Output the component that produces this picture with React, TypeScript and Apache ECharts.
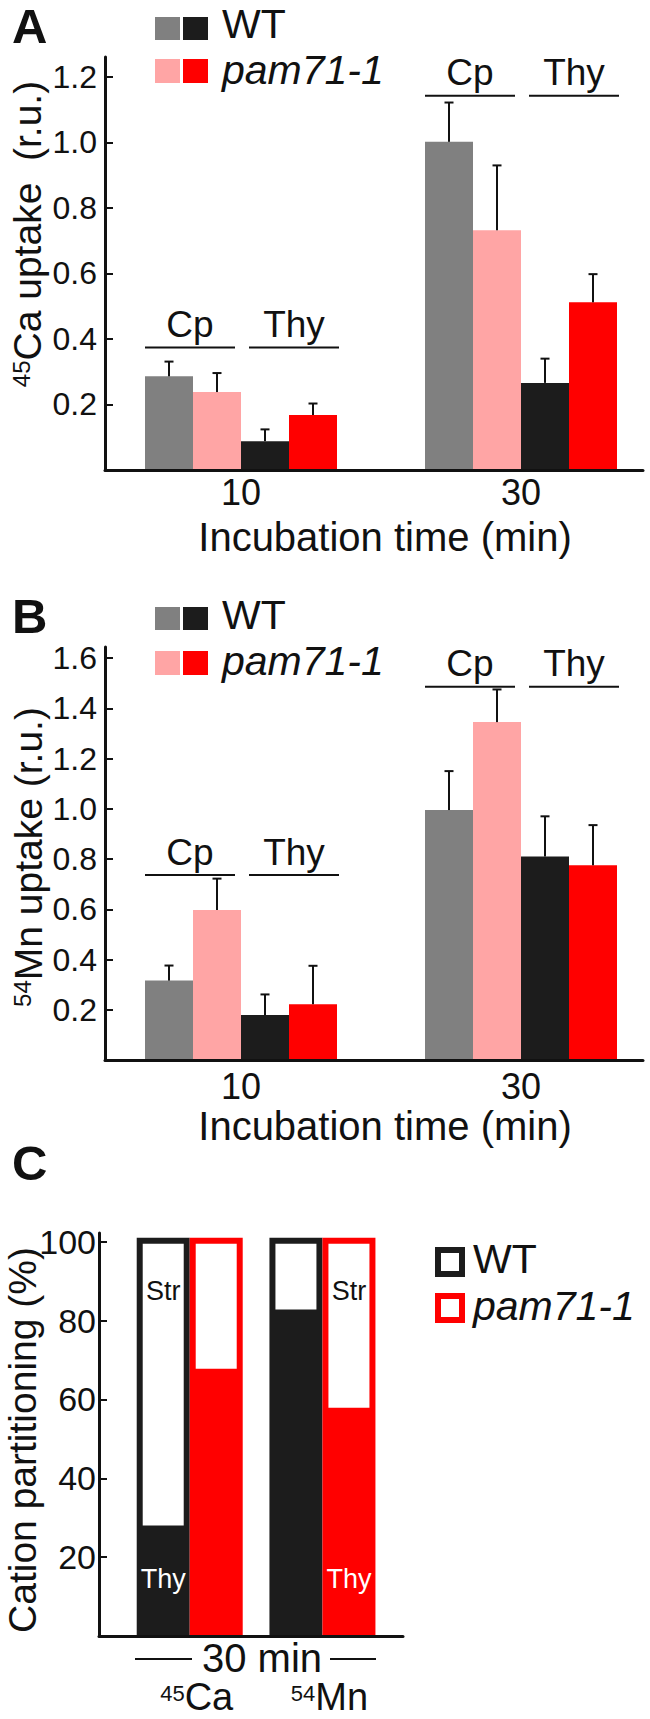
import React, { useEffect, useRef } from 'react';
import * as echarts from 'echarts';

const FONT = '"Liberation Sans", Arial, Helvetica, sans-serif';
const INK = '#111111';
const GREY = '#808080';
const PINK = '#ffa5a5';
const BLACK = '#1c1c1c';
const RED = '#ff0000';

// ---------------- data ----------------
const incubationTimes = [10, 30];
const compartments = ['Cp', 'Thy'];
const genotypes = ['WT', 'pam71-1'];

// Panel A: 45Ca uptake (r.u.)
const caCpWT = [0.286, 1.002];
const caCpPam = [0.238, 0.732];
const caThyWT = [0.088, 0.266];
const caThyPam = [0.168, 0.512];
const caCpWTErr = [0.045, 0.12];
const caCpPamErr = [0.058, 0.198];
const caThyWTErr = [0.036, 0.074];
const caThyPamErr = [0.035, 0.086];
const caBracketLevel = [0.374, 1.143];
const caTicks = [0.2, 0.4, 0.6, 0.8, 1.0, 1.2];

// Panel B: 54Mn uptake (r.u.)
const mnCpWT = [0.316, 0.995];
const mnCpPam = [0.597, 1.345];
const mnThyWT = [0.179, 0.81];
const mnThyPam = [0.222, 0.775];
const mnCpWTErr = [0.06, 0.155];
const mnCpPamErr = [0.125, 0.13];
const mnThyWTErr = [0.082, 0.16];
const mnThyPamErr = [0.153, 0.16];
const mnBracketLevel = [0.736, 1.486];
const mnTicks = [0.2, 0.4, 0.6, 0.8, 1.0, 1.2, 1.4, 1.6];

// Panel C: cation partitioning (%) after 30 min, Thy share
const cations = ['Ca', 'Mn'];
const cationMass = ['45', '54'];
const cationPos = [1, 2];
const thyShareWT = [28.0, 82.8];
const thySharePam = [67.8, 57.9];
const partTicks = [20, 40, 60, 80, 100];
const labelledWT = [true, false];
const labelledPam = [false, true];
const STR_LABEL_AT = 87.5;
const THY_LABEL_AT = 14.5;

// ---------------- layout constants ----------------
const TIME_RANGE = [0.2857, 38.714];
const CATION_RANGE = [0.3165, 2.607];
const BAR_W = 48;
const BAR_OFFSETS = [-72, -24, 24, 72];
const LEGEND_FS = 41;
const mid = (baseline: number, fs: number) => baseline - 0.3465 * fs;

const txtStyle = (extra: any = {}) => ({
  fontFamily: FONT,
  fill: INK,
  align: 'left',
  verticalAlign: 'middle',
  ...extra,
});

function errorBarItem(params: any, api: any) {
  const x = api.value(0);
  const m = api.value(1);
  const t = api.value(2);
  const k = api.value(3);
  const pm = api.coord([x, m]);
  const pt = api.coord([x, t]);
  const cx = pm[0] + BAR_OFFSETS[k];
  const ls = { stroke: INK, lineWidth: 2 };
  return {
    type: 'group',
    children: [
      { type: 'line', shape: { x1: cx, y1: pm[1], x2: cx, y2: pt[1] }, style: ls },
      { type: 'line', shape: { x1: cx - 4.5, y1: pt[1], x2: cx + 4.5, y2: pt[1] }, style: ls },
    ],
  };
}

function bracketItem(params: any, api: any) {
  const p = api.coord([api.value(0), api.value(1)]);
  const cx = p[0];
  const y = p[1];
  const segs = [
    [-96, -6],
    [8, 98],
  ];
  const children: any[] = [];
  segs.forEach((s, j) => {
    children.push({
      type: 'line',
      shape: { x1: cx + s[0], y1: y, x2: cx + s[1], y2: y },
      style: { stroke: INK, lineWidth: 2 },
    });
    children.push({
      type: 'text',
      x: cx + (s[0] + s[1]) / 2,
      y: mid(y - 10, 37),
      style: txtStyle({ text: compartments[j], fontSize: 37, lineHeight: 34, align: 'center' }),
    });
  });
  return { type: 'group', children };
}

const makePartitionRender = (color: string, side: number, labelled: boolean[]) => (params: any, api: any) => {
  const pos = api.value(0);
  const v = api.value(1);
  const p0 = api.coord([pos, 0]);
  const pv = api.coord([pos, v]);
  const p100 = api.coord([pos, 100]);
  const W = 53;
  const B = 6;
  const left = side < 0 ? p0[0] - W : p0[0];
  const top = p100[1] - 4;
  const children: any[] = [
    { type: 'rect', shape: { x: left, y: top, width: W, height: p0[1] - top }, style: { fill: color } },
    {
      type: 'rect',
      shape: { x: left + B, y: top + B, width: W - 2 * B, height: pv[1] - top - B },
      style: { fill: '#ffffff' },
    },
  ];
  if (labelled[params.dataIndex]) {
    const cx = left + W / 2;
    children.push({
      type: 'text',
      x: cx,
      y: api.coord([pos, STR_LABEL_AT])[1],
      style: txtStyle({ text: 'Str', fontSize: 27, lineHeight: 26, align: 'center', fill: INK }),
    });
    children.push({
      type: 'text',
      x: cx,
      y: api.coord([pos, THY_LABEL_AT])[1],
      style: txtStyle({ text: 'Thy', fontSize: 27, lineHeight: 26, align: 'center', fill: '#ffffff' }),
    });
  }
  return { type: 'group', children };
};

function uptakeSeries(gi: number, values: number[][], errs: number[][], brackets: number[]) {
  const colors = [GREY, PINK, BLACK, RED];
  const names = ['WT Cp', 'pam71-1 Cp', 'WT Thy', 'pam71-1 Thy'];
  const bars = values.map((vals, k) => ({
    type: 'bar',
    name: names[k],
    xAxisIndex: gi,
    yAxisIndex: gi,
    barWidth: BAR_W,
    barGap: '0%',
    itemStyle: { color: colors[k] },
    data: incubationTimes.map((t, i) => [t, vals[i]]),
  }));
  const errData: number[][] = [];
  values.forEach((vals, k) =>
    vals.forEach((v, i) => errData.push([incubationTimes[i], v, v + errs[k][i], k]))
  );
  return [
    ...bars,
    { type: 'custom', xAxisIndex: gi, yAxisIndex: gi, data: errData, renderItem: errorBarItem, z: 3 },
    {
      type: 'custom',
      xAxisIndex: gi,
      yAxisIndex: gi,
      data: incubationTimes.map((t, i) => [t, brackets[i]]),
      renderItem: bracketItem,
      z: 3,
    },
  ];
}

const axisLineStyle = { show: true, onZero: false, lineStyle: { color: INK, width: 3 } };

function timeXAxis(gi: number, margin: number) {
  return {
    type: 'value',
    gridIndex: gi,
    min: TIME_RANGE[0],
    max: TIME_RANGE[1],
    z: 5,
    axisLine: axisLineStyle,
    axisTick: { show: false },
    splitLine: { show: false },
    axisLabel: {
      customValues: incubationTimes,
      formatter: (v: number) => String(Math.round(v)),
      fontSize: 36,
      lineHeight: 36,
      color: INK,
      fontFamily: FONT,
      margin,
    },
  };
}

function valueYAxis(gi: number, max: number, ticks: number[], fs: number, margin: number, fmt: (v: number) => string) {
  return {
    type: 'value',
    gridIndex: gi,
    min: 0,
    max,
    z: 5,
    axisLine: axisLineStyle,
    axisTick: { show: true, inside: true, length: 8, customValues: ticks, lineStyle: { color: INK, width: 2 } },
    splitLine: { show: false },
    axisLabel: { customValues: ticks, formatter: fmt, fontSize: fs, color: INK, fontFamily: FONT, margin },
  };
}

function buildOption() {
  const g: any[] = [];
  const text = (t: string, x: number, y: number, fs: number, extra: any = {}, el: any = {}) =>
    g.push({ type: 'text', x, y, ...el, style: txtStyle({ text: t, fontSize: fs, ...extra }) });
  const rect = (x: number, y: number, w: number, h: number, style: any) =>
    g.push({ type: 'rect', shape: { x, y, width: w, height: h }, style });
  const line = (x1: number, y1: number, x2: number, y2: number) =>
    g.push({ type: 'line', shape: { x1, y1, x2, y2 }, style: { stroke: INK, lineWidth: 2 } });

  // panel letters
  text('A', 12, mid(43, 49), 49, { fontWeight: 'bold', lineHeight: 44 });
  text('B', 12, mid(633, 49), 49, { fontWeight: 'bold', lineHeight: 44 });
  text('C', 12, mid(1180, 49), 49, { fontWeight: 'bold', lineHeight: 44 });

  const legendText = (x: number, b1: number, b2: number) => {
    text(genotypes[0], x, mid(b1, LEGEND_FS), LEGEND_FS, { lineHeight: 38 });
    text(genotypes[1], x, mid(b2, LEGEND_FS), LEGEND_FS, { fontStyle: 'italic', lineHeight: 38 });
  };

  // legends A & B
  [
    [17, 38, 59, 84],
    [607, 629, 651, 675],
  ].forEach(([y1, b1, y2, b2]) => {
    rect(155, y1, 25, 23, { fill: GREY });
    rect(183, y1, 25, 23, { fill: BLACK });
    rect(155, y2, 25, 24, { fill: PINK });
    rect(183, y2, 25, 24, { fill: RED });
    legendText(222, b1, b2);
  });

  // legend C
  rect(438, 1250, 24, 24, { fill: '#ffffff', stroke: BLACK, lineWidth: 6 });
  rect(438, 1296, 24, 24, { fill: '#ffffff', stroke: RED, lineWidth: 6 });
  legendText(473, 1273, 1320);

  // axis names
  const supRich = { sup: { fontSize: 24, verticalAlign: 'top', fontFamily: FONT, fill: INK } };
  text('{sup|45}Ca uptake\u00a0 (r.u.)', 27, 234, 39, { align: 'center', rich: supRich, lineHeight: 36 }, { rotation: Math.PI / 2 });
  text('{sup|54}Mn uptake (r.u.)', 28, 857, 39, { align: 'center', rich: supRich, lineHeight: 36 }, { rotation: Math.PI / 2 });
  text('Cation partitioning (%)', 22, 1440, 39, { align: 'center', lineHeight: 34 }, { rotation: Math.PI / 2 });
  text('Incubation time (min)', 385, mid(551, 40), 40, { align: 'center', lineHeight: 36 });
  text('Incubation time (min)', 385, mid(1140, 40), 40, { align: 'center', lineHeight: 36 });

  // 30 min bracket (panel C)
  text('30 min', 262, mid(1672, 40), 40, { align: 'center', lineHeight: 34 });
  line(135, 1659, 192, 1659);
  line(330, 1659, 376, 1659);

  const series: any[] = [
    ...uptakeSeries(0, [caCpWT, caCpPam, caThyWT, caThyPam], [caCpWTErr, caCpPamErr, caThyWTErr, caThyPamErr], caBracketLevel),
    ...uptakeSeries(1, [mnCpWT, mnCpPam, mnThyWT, mnThyPam], [mnCpWTErr, mnCpPamErr, mnThyWTErr, mnThyPamErr], mnBracketLevel),
    {
      type: 'custom',
      name: 'WT',
      xAxisIndex: 2,
      yAxisIndex: 2,
      data: cationPos.map((p, i) => [p, thyShareWT[i]]),
      renderItem: makePartitionRender(BLACK, -1, labelledWT),
    },
    {
      type: 'custom',
      name: 'pam71-1',
      xAxisIndex: 2,
      yAxisIndex: 2,
      data: cationPos.map((p, i) => [p, thySharePam[i]]),
      renderItem: makePartitionRender(RED, 1, labelledPam),
    },
  ];

  return {
    animation: false,
    backgroundColor: '#ffffff',
    textStyle: { fontFamily: FONT },
    grid: [
      { left: 105, top: 57, width: 538, height: 413, outerBoundsMode: 'none' },
      { left: 105, top: 647, width: 538, height: 413, outerBoundsMode: 'none' },
      { left: 99, top: 1233, width: 304, height: 403, outerBoundsMode: 'none' },
    ],
    xAxis: [
      timeXAxis(0, 4),
      timeXAxis(1, 8),
      {
        type: 'value',
        gridIndex: 2,
        min: CATION_RANGE[0],
        max: CATION_RANGE[1],
        z: 5,
        axisLine: axisLineStyle,
        axisTick: { show: false },
        splitLine: { show: false },
        axisLabel: {
          customValues: cationPos,
          formatter: (v: number) => {
            const i = cationPos.indexOf(Math.round(v));
            return i < 0 ? '' : `{sup|${cationMass[i]}}${cations[i]}`;
          },
          fontSize: 38,
          lineHeight: 30,
          color: INK,
          fontFamily: FONT,
          margin: 46,
          padding: [0, 0, 0, 14],
          rich: { sup: { fontSize: 22, lineHeight: 30, verticalAlign: 'top', color: INK, fontFamily: FONT } },
        },
      },
    ],
    yAxis: [
      valueYAxis(0, 1.261, caTicks, 32, 8, (v) => v.toFixed(1)),
      valueYAxis(1, 1.644, mnTicks, 32, 8, (v) => v.toFixed(1)),
      valueYAxis(2, 102.2, partTicks, 34, 3, (v) => String(Math.round(v))),
    ],
    graphic: g,
    series,
  };
}

export default function App() {
  const ref = useRef<HTMLDivElement>(null);
  useEffect(() => {
    const chart = echarts.init(ref.current as HTMLDivElement, null, { renderer: 'svg' });
    chart.setOption(buildOption() as any);
    return () => chart.dispose();
  }, []);
  return (
    <div
      ref={ref}
      style={{ position: 'absolute', left: 0, top: 0, width: 650, height: 1719, background: '#ffffff' }}
    />
  );
}
